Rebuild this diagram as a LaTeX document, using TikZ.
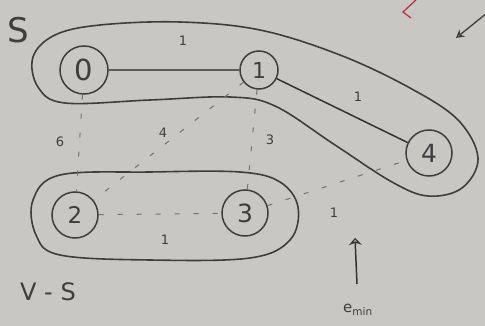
\documentclass[tikz,border=0pt]{standalone}
\usepackage{fontspec}
\setmainfont{DejaVu Sans}
\usetikzlibrary{arrows.meta}
\definecolor{paper}{RGB}{201,199,196}
\definecolor{ink}{RGB}{62,62,62}
\definecolor{faint}{RGB}{115,113,110}
\definecolor{redink}{RGB}{190,40,60}
\tikzset{
  vert/.style={circle,draw=ink,line width=1.5pt,inner sep=0pt,text=ink},
  encl/.style={draw=ink,line width=1.6pt},
  solidedge/.style={draw=ink,line width=1.6pt},
  dashedge/.style={draw=faint,line width=1pt,dash pattern=on 5pt off 14pt},
  wlabel/.style={text=ink,font=\fontsize{13}{13}\selectfont,inner sep=0pt},
  biglabel/.style={text=ink,font=\fontsize{34}{34}\selectfont,inner sep=0pt}
}
\begin{document}
\begin{tikzpicture}[x=1pt,y=-1pt]
\fill[paper] (0,0) rectangle (485,326);
\useasboundingbox (0,0) rectangle (485,326);
% vertices
\node[vert,minimum size=48pt,font=\fontsize{29}{29}\selectfont] (n0) at (84,70) {0};
\node[vert,minimum size=38pt,font=\fontsize{22}{22}\selectfont] (n1) at (259,70) {1};
\node[vert,minimum size=46pt,font=\fontsize{25}{25}\selectfont] (n4) at (429,153) {4};
\node[vert,minimum size=46pt,font=\fontsize{23}{23}\selectfont] (n2) at (75,215) {2};
\node[vert,minimum size=46pt,font=\fontsize{25}{25}\selectfont] (n3) at (245,213) {3};
% enclosures
\draw[encl] plot[smooth cycle,tension=0.6] coordinates {(100,25) (180,22) (260,30) (340,55) (410,88) (458,120) (478,158) (462,188) (428,196) (392,182) (335,145) (275,106) (230,97) (150,100) (65,103) (38,87) (33,57) (55,35)};
\draw[encl] plot[smooth cycle,tension=0.6] coordinates {(60,175) (150,172) (240,172) (280,182) (298,207) (290,240) (250,258) (150,260) (60,255) (36,235) (33,200)};
% solid edges
\draw[solidedge,line width=2.4pt,draw=ink!85] (n0) -- (n1);
\draw[solidedge,line width=1.5pt,draw=black!80] (n1) -- (n4);
% dashed edges
\draw[dashedge] (n0) -- (n2);
\draw[dashedge] (n1) -- (n3);
\draw[dashedge] (n1) -- (n2);
\draw[dashedge] (n2) -- (n3);
\draw[dashedge] (n3) -- (n4);
% weights
\node[wlabel] (w01) at (183,41) {1};
\node[wlabel] (w14) at (358,97) {1};
\node[wlabel] (w02) at (60,142) {6};
\node[wlabel] (w12) at (163,133) {4};
\node[wlabel] (w13) at (270,140) {3};
\node[wlabel] (w23) at (165,240) {1};
\node[wlabel] (w34) at (334,213) {1};
% set labels
\node[biglabel] (lS) at (18,30) {S};
\node[biglabel,font=\fontsize{24}{24}\selectfont] (lVS) at (48,292) {V - S};
% e_min arrow
\coordinate (ea) at (357,284);
\node[text=ink,inner sep=0pt,font=\fontsize{15}{15}\selectfont] (emin) at (358,310) {e$_{\mathrm{min}}$};
\coordinate (eb) at (355,238);
\draw[draw=black!80,line width=1.5pt,-{Stealth[length=7pt,width=13pt,open]}] (ea) -- (eb);
% top-right arrow
\coordinate (ta) at (487,13);
\coordinate (tb) at (456,38);
\draw[draw=ink,line width=1.3pt,-{Stealth[length=8pt,width=9pt,open]}] (ta) -- (tb);
% red mark
\coordinate (ra) at (418,-2);
\coordinate (rb) at (403,12);
\coordinate (rc) at (411,18);
\draw[redink,line width=1.2pt] (ra) -- (rb) -- (rc);
\end{tikzpicture}
\end{document}
